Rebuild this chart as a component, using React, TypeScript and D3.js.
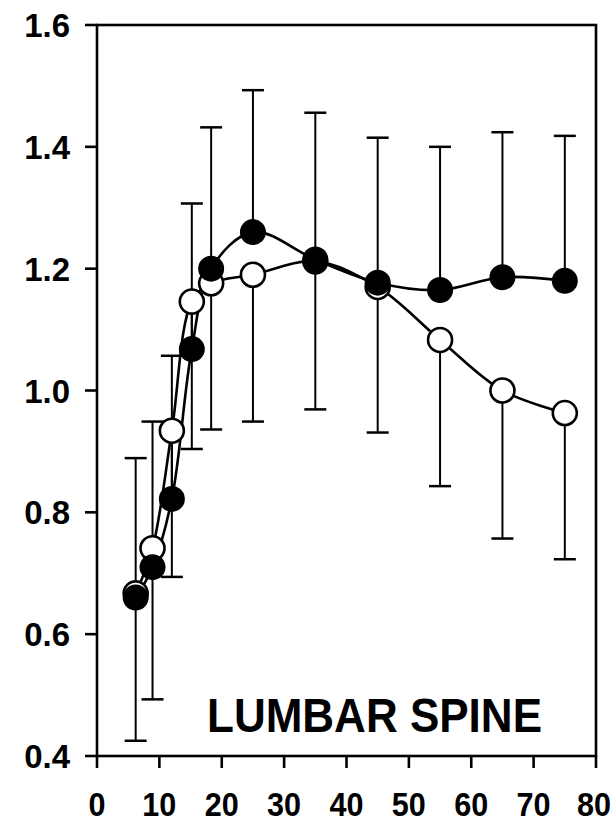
import React from "react";
import * as d3 from "d3";

const ages = [6.2, 8.9, 12, 15.2, 18.3, 25, 35, 45, 55, 65, 75];
const filledMean = [0.66, 0.71, 0.822, 1.068, 1.2, 1.26, 1.215, 1.177, 1.165, 1.186, 1.18];
const filledUpper = [0.889, 0.949, 1.057, 1.307, 1.432, 1.493, 1.456, 1.415, 1.4, 1.424, 1.418];
const openMean = [0.667, 0.741, 0.934, 1.146, 1.176, 1.19, 1.212, 1.17, 1.083, 1.0, 0.963];
const openLower = [0.425, 0.493, 0.694, 0.904, 0.936, 0.949, 0.969, 0.931, 0.843, 0.757, 0.723];
const xTicks = [0, 10, 20, 30, 40, 50, 60, 70, 80];
const yTicks = [0.4, 0.6, 0.8, 1.0, 1.2, 1.4, 1.6];
const title = "LUMBAR SPINE";

const W = 614;
const H = 824;
const FONT = "'Liberation Sans', Arial, Helvetica, sans-serif";

export default function App() {
  const x = d3.scaleLinear().domain([0, 80]).range([97, 596]);
  const y = d3.scaleLinear().domain([0.4, 1.6]).range([756, 25]);
  const line = d3
    .line<[number, number]>()
    .x((d) => x(d[0]))
    .y((d) => y(d[1]))
    .curve(d3.curveCatmullRom.alpha(0.5));
  const filledPts: [number, number][] = ages.map((a, i) => [a, filledMean[i]]);
  const openPts: [number, number][] = ages.map((a, i) => [a, openMean[i]]);
  const cap = 11;
  const r = 13;
  const xFont = 34;
  return (
    <svg
      width={W}
      height={H}
      style={{ position: "absolute", left: 0, top: 0, background: "#fff" }}
    >
      <rect x={0} y={0} width={W} height={H} fill="#fff" />
      {/* error bars */}
      <g stroke="#000" strokeWidth={2}>
        {ages.map((a, i) => (
          <g key={"u" + i}>
            <line x1={x(a)} x2={x(a)} y1={y(filledMean[i])} y2={y(filledUpper[i])} />
            <line x1={x(a) - cap} x2={x(a) + cap} y1={y(filledUpper[i])} y2={y(filledUpper[i])} strokeWidth={2.5} />
          </g>
        ))}
        {ages.map((a, i) => (
          <g key={"l" + i}>
            <line x1={x(a)} x2={x(a)} y1={y(openMean[i])} y2={y(openLower[i])} />
            <line x1={x(a) - cap} x2={x(a) + cap} y1={y(openLower[i])} y2={y(openLower[i])} strokeWidth={2.5} />
          </g>
        ))}
      </g>
      {/* lines */}
      <path d={line(openPts) || ""} fill="none" stroke="#000" strokeWidth={2.6} />
      <path d={line(filledPts) || ""} fill="none" stroke="#000" strokeWidth={2.6} />
      {/* markers */}
      {openPts.map((p, i) => (
        <circle key={"o" + i} cx={x(p[0])} cy={y(p[1])} r={r - 1} fill="#fff" stroke="#000" strokeWidth={2.6} />
      ))}
      {filledPts.map((p, i) => (
        <circle key={"f" + i} cx={x(p[0])} cy={y(p[1])} r={r} fill="#000" />
      ))}
      {/* frame */}
      <rect x={x(0)} y={y(1.6)} width={x(80) - x(0)} height={y(0.4) - y(1.6)} fill="none" stroke="#000" strokeWidth={2.6} />
      {/* y ticks */}
      {yTicks.map((t) => (
        <g key={"yt" + t}>
          <line x1={x(0) - 12} x2={x(0)} y1={y(t)} y2={y(t)} stroke="#000" strokeWidth={2.6} />
          <text
            x={70}
            y={y(t) + 12}
            textAnchor="end"
            fontFamily={FONT}
            fontWeight="bold"
            fontSize={33}
            fill="#000"
          >
            {t.toFixed(1)}
          </text>
        </g>
      ))}
      {/* x ticks */}
      {xTicks.map((t) => {
        const s = String(t);
        const len = s.length * 0.556 * xFont * 0.9;
        const cx = Math.min(x(t), W - 3 - len / 2);
        return (
          <g key={"xt" + t}>
            <line x1={x(t)} x2={x(t)} y1={y(0.4)} y2={y(0.4) + 12} stroke="#000" strokeWidth={2.6} />
            <text
              x={cx}
              y={816}
              textAnchor="middle"
              fontFamily={FONT}
              fontWeight="bold"
              fontSize={xFont}
              textLength={len}
              lengthAdjust="spacingAndGlyphs"
              fill="#000"
            >
              {s}
            </text>
          </g>
        );
      })}
      <text
        x={207}
        y={732}
        fontFamily={FONT}
        fontWeight="bold"
        fontSize={49}
        textLength={335}
        lengthAdjust="spacingAndGlyphs"
        fill="#000"
      >
        {title}
      </text>
    </svg>
  );
}
